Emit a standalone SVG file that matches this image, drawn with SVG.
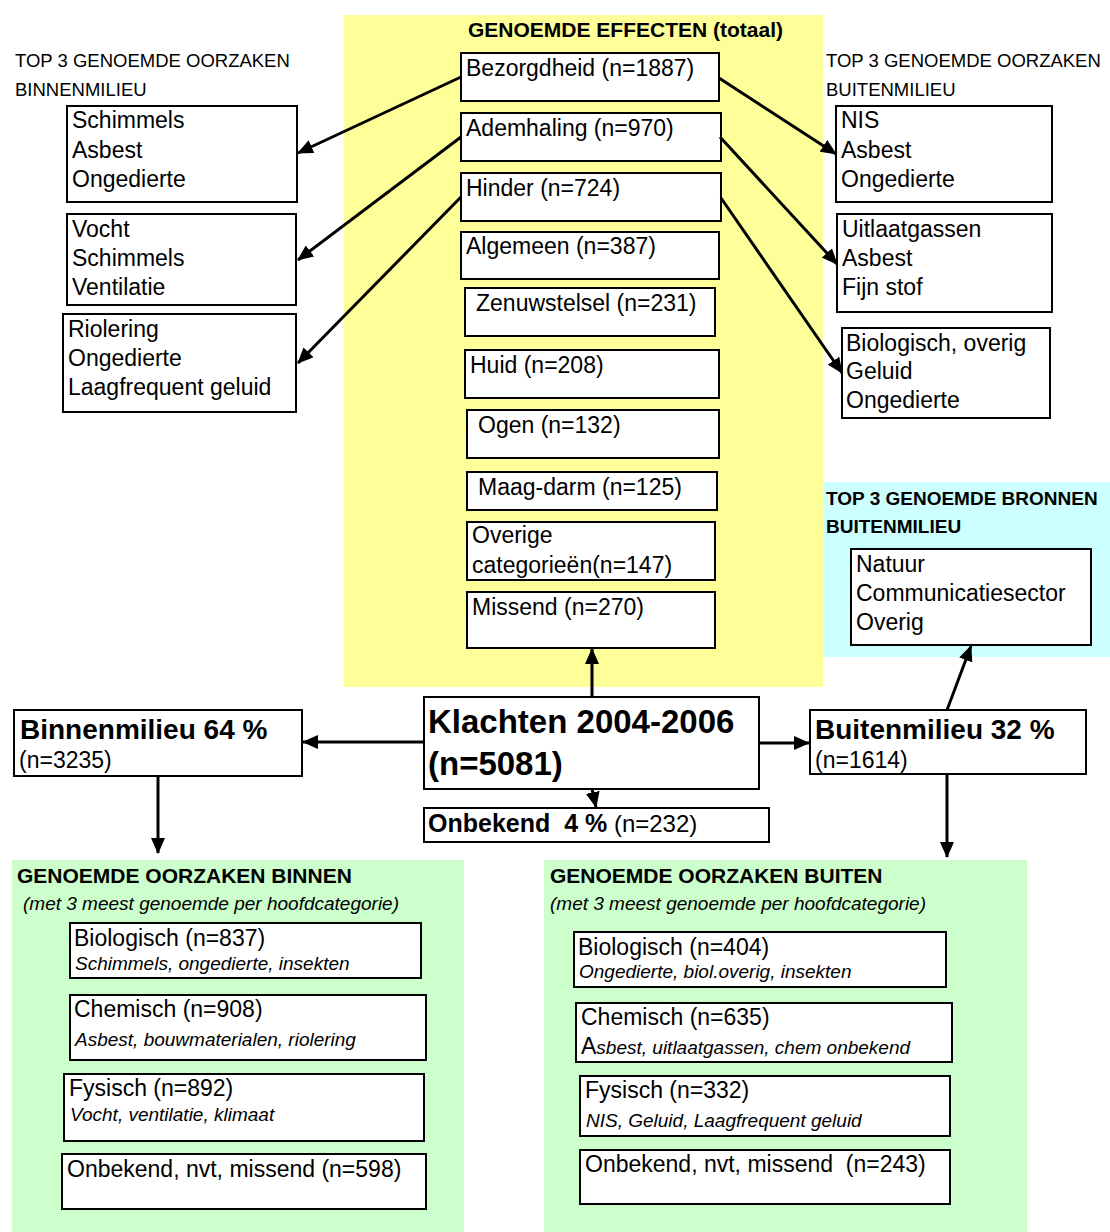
<svg xmlns="http://www.w3.org/2000/svg" width="1110" height="1232" viewBox="0 0 1110 1232">
<style>
text{font-family:"Liberation Sans",Arial,sans-serif;fill:#000}
.t{font-size:23px}
.lbl{font-size:18.5px}
.ttl{font-size:21px;font-weight:bold}
.ttls{font-size:19px;font-weight:bold}
.it{font-size:19px;font-style:italic}
.box{fill:#fff;stroke:#000;stroke-width:2}
.con{stroke:#000;stroke-width:3;fill:none;marker-end:url(#ah)}
</style>
<defs>
<marker id="ah" markerUnits="userSpaceOnUse" markerWidth="16" markerHeight="14" viewBox="0 0 16 14" refX="15" refY="7" orient="auto">
<path d="M0,0 L16,7 L0,14 z" fill="#000"/>
</marker>
</defs>
<rect width="1110" height="1232" fill="#fff"/>
<!-- panels -->
<rect id="panel-effecten" x="344" y="15" width="479" height="672" fill="#FFFF99"/>
<rect id="panel-bronnen" x="823" y="482" width="287" height="175" fill="#CCFFFF"/>
<rect id="panel-binnen" x="12" y="860" width="452" height="372" fill="#CCFFCC"/>
<rect id="panel-buiten" x="544" y="860" width="483" height="372" fill="#CCFFCC"/>

<!-- panel titles -->
<text class="ttl" x="468" y="37">GENOEMDE EFFECTEN (totaal)</text>
<text class="lbl" x="15" y="67">TOP 3 GENOEMDE OORZAKEN</text>
<text class="lbl" x="15" y="96">BINNENMILIEU</text>
<text class="lbl" x="826" y="67">TOP 3 GENOEMDE OORZAKEN</text>
<text class="lbl" x="826" y="96">BUITENMILIEU</text>
<text class="ttls" x="826" y="505">TOP 3 GENOEMDE BRONNEN</text>
<text class="ttls" x="826" y="533">BUITENMILIEU</text>
<text class="ttl" x="17" y="883">GENOEMDE OORZAKEN BINNEN</text>
<text class="it" x="23" y="910">(met 3 meest genoemde per hoofdcategorie)</text>
<text class="ttl" x="550" y="883">GENOEMDE OORZAKEN BUITEN</text>
<text class="it" x="550" y="910">(met 3 meest genoemde per hoofdcategorie)</text>

<!-- effects -->
<g id="eff-bezorgdheid"><rect class="box" x="461" y="53" width="258" height="48"/><text class="t" x="466" y="76">Bezorgdheid (n=1887)</text></g>
<g id="eff-ademhaling"><rect class="box" x="461" y="113" width="260" height="48"/><text class="t" x="466" y="136">Ademhaling (n=970)</text></g>
<g id="eff-hinder"><rect class="box" x="461" y="173" width="260" height="48"/><text class="t" x="466" y="196">Hinder (n=724)</text></g>
<g id="eff-algemeen"><rect class="box" x="461" y="232" width="258" height="47"/><text class="t" x="466" y="254">Algemeen (n=387)</text></g>
<g id="eff-zenuwstelsel"><rect class="box" x="465" y="288" width="250" height="48"/><text class="t" x="476" y="311">Zenuwstelsel (n=231)</text></g>
<g id="eff-huid"><rect class="box" x="465" y="350" width="254" height="48"/><text class="t" x="470" y="373">Huid (n=208)</text></g>
<g id="eff-ogen"><rect class="box" x="467" y="410" width="252" height="48"/><text class="t" x="478" y="433">Ogen (n=132)</text></g>
<g id="eff-maagdarm"><rect class="box" x="467" y="472" width="250" height="38"/><text class="t" x="478" y="495">Maag-darm (n=125)</text></g>
<g id="eff-overige"><rect class="box" x="467" y="522" width="248" height="58"/><text class="t" x="472" y="543">Overige</text><text class="t" x="472" y="573">categorieën(n=147)</text></g>
<g id="eff-missend"><rect class="box" x="467" y="592" width="248" height="56"/><text class="t" x="472" y="615">Missend (n=270)</text></g>

<!-- left top-3 boxes -->
<g id="binnen-top1"><rect class="box" x="67" y="106" width="230" height="96"/><text class="t" x="72" y="128">Schimmels</text><text class="t" x="72" y="158">Asbest</text><text class="t" x="72" y="187">Ongedierte</text></g>
<g id="binnen-top2"><rect class="box" x="67" y="214" width="229" height="91"/><text class="t" x="72" y="237">Vocht</text><text class="t" x="72" y="266">Schimmels</text><text class="t" x="72" y="295">Ventilatie</text></g>
<g id="binnen-top3"><rect class="box" x="63" y="314" width="233" height="98"/><text class="t" x="68" y="337">Riolering</text><text class="t" x="68" y="366">Ongedierte</text><text class="t" x="68" y="395">Laagfrequent geluid</text></g>

<!-- right top-3 boxes -->
<g id="buiten-top1"><rect class="box" x="836" y="106" width="216" height="96"/><text class="t" x="841" y="128">NIS</text><text class="t" x="841" y="158">Asbest</text><text class="t" x="841" y="187">Ongedierte</text></g>
<g id="buiten-top2"><rect class="box" x="837" y="214" width="215" height="98"/><text class="t" x="842" y="237">Uitlaatgassen</text><text class="t" x="842" y="266">Asbest</text><text class="t" x="842" y="295">Fijn stof</text></g>
<g id="buiten-top3"><rect class="box" x="842" y="328" width="208" height="90"/><text class="t" x="846" y="351">Biologisch, overig</text><text class="t" x="846" y="379">Geluid</text><text class="t" x="846" y="408">Ongedierte</text></g>

<!-- sources -->
<g id="bronnen"><rect class="box" x="851" y="549" width="240" height="96"/><text class="t" x="856" y="572">Natuur</text><text class="t" x="856" y="601">Communicatiesector</text><text class="t" x="856" y="630">Overig</text></g>

<!-- central -->
<g id="klachten"><rect class="box" x="424" y="697" width="335" height="92"/><text x="428" y="733" style="font-size:33px;font-weight:bold">Klachten 2004-2006</text><text x="428" y="775" style="font-size:33px;font-weight:bold">(n=5081)</text></g>
<g id="binnenmilieu"><rect class="box" x="14" y="710" width="288" height="66"/><text x="20" y="739" style="font-size:28px;font-weight:bold">Binnenmilieu 64 %</text><text class="t" x="19" y="768">(n=3235)</text></g>
<g id="buitenmilieu"><rect class="box" x="810" y="710" width="276" height="64"/><text x="815" y="739" style="font-size:28px;font-weight:bold">Buitenmilieu 32 %</text><text class="t" x="815" y="768">(n=1614)</text></g>
<g id="onbekend"><rect class="box" x="424" y="808" width="345" height="34"/><text x="428" y="832"><tspan style="font-size:25px;font-weight:bold" xml:space="preserve">Onbekend  4 %</tspan><tspan style="font-size:24px"> (n=232)</tspan></text></g>

<!-- bottom left categories -->
<g id="binnen-bio"><rect class="box" x="70" y="923" width="351" height="55"/><text class="t" x="74" y="946">Biologisch (n=837)</text><text class="it" x="75" y="970">Schimmels, ongedierte, insekten</text></g>
<g id="binnen-chem"><rect class="box" x="70" y="995" width="356" height="65"/><text class="t" x="74" y="1017">Chemisch (n=908)</text><text class="it" x="75" y="1046">Asbest, bouwmaterialen, riolering</text></g>
<g id="binnen-fys"><rect class="box" x="64" y="1074" width="360" height="67"/><text class="t" x="69" y="1096">Fysisch (n=892)</text><text class="it" x="70" y="1121">Vocht, ventilatie, klimaat</text></g>
<g id="binnen-onb"><rect class="box" x="62" y="1154" width="364" height="55"/><text class="t" x="67" y="1177">Onbekend, nvt, missend (n=598)</text></g>

<!-- bottom right categories -->
<g id="buiten-bio"><rect class="box" x="574" y="932" width="372" height="55"/><text class="t" x="578" y="955">Biologisch (n=404)</text><text class="it" x="579" y="978">Ongedierte, biol.overig, insekten</text></g>
<g id="buiten-chem"><rect class="box" x="576" y="1003" width="376" height="59"/><text class="t" x="581" y="1025">Chemisch (n=635)</text><text x="581" y="1054"><tspan class="t">A</tspan><tspan class="it">sbest, uitlaatgassen, chem onbekend</tspan></text></g>
<g id="buiten-fys"><rect class="box" x="580" y="1076" width="370" height="60"/><text class="t" x="585" y="1098">Fysisch (n=332)</text><text class="it" x="586" y="1127">NIS, Geluid, Laagfrequent geluid</text></g>
<g id="buiten-onb"><rect class="box" x="580" y="1150" width="370" height="54"/><text class="t" x="585" y="1172" xml:space="preserve">Onbekend, nvt, missend  (n=243)</text></g>

<!-- connectors -->
<g id="connectors">
<line class="con" x1="461" y1="77" x2="298" y2="153"/>
<line class="con" x1="461" y1="137" x2="298" y2="260"/>
<line class="con" x1="461" y1="197" x2="298" y2="363"/>
<line class="con" x1="719" y1="78" x2="836" y2="154"/>
<line class="con" x1="720" y1="137" x2="837" y2="264"/>
<line class="con" x1="721" y1="198" x2="842" y2="373"/>
<line class="con" x1="592" y1="697" x2="592" y2="649"/>
<line class="con" x1="424" y1="742" x2="303" y2="742"/>
<line class="con" x1="759" y1="743" x2="809" y2="743"/>
<line class="con" x1="592" y1="789" x2="596" y2="807"/>
<line class="con" x1="947" y1="710" x2="971" y2="646"/>
<line class="con" x1="947" y1="774" x2="947" y2="857"/>
<line class="con" x1="158" y1="776" x2="158" y2="853"/>
</g>
</svg>
